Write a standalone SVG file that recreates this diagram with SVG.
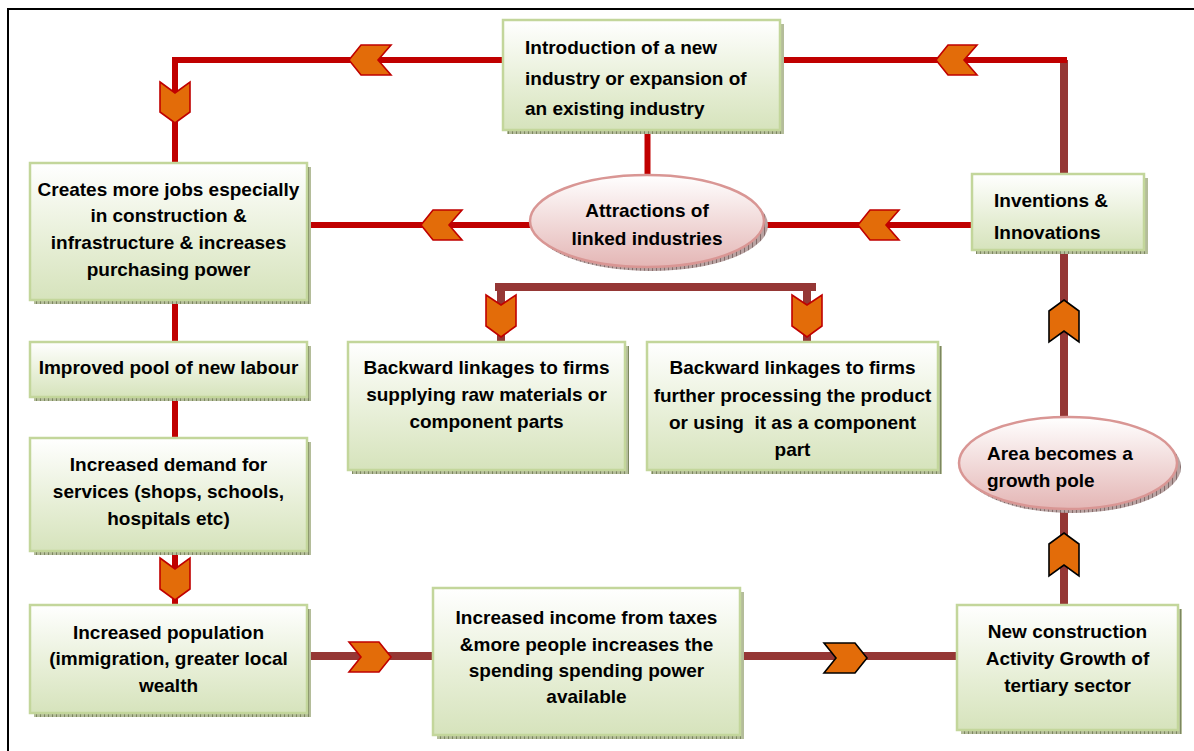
<svg xmlns="http://www.w3.org/2000/svg" width="1194" height="751" viewBox="0 0 1194 751">
<defs>
<linearGradient id="gBox" x1="0" y1="0" x2="0" y2="1">
<stop offset="0" stop-color="#ffffff"/>
<stop offset="0.6" stop-color="#e6eed5"/>
<stop offset="1" stop-color="#d6e3bc"/>
</linearGradient>
<linearGradient id="gEll" x1="0" y1="0" x2="0" y2="1">
<stop offset="0" stop-color="#ffffff"/>
<stop offset="1" stop-color="#e4b6b5"/>
</linearGradient>
<pattern id="hatch" width="4" height="4" patternUnits="userSpaceOnUse">
<rect width="4" height="4" fill="#b4bd9a"/>
<line x1="0.5" y1="0" x2="0.5" y2="4" stroke="#7c8760" stroke-width="1"/>
</pattern>
<pattern id="hatch2" width="4" height="4" patternUnits="userSpaceOnUse">
<rect width="4" height="4" fill="#b9a3a2"/>
<line x1="0.5" y1="0" x2="0.5" y2="4" stroke="#836b6a" stroke-width="1"/>
</pattern>
</defs>
<style>
.box{fill:url(#gBox);stroke:#c3d69b;stroke-width:2.5}
.sh{fill:url(#hatch)}
.sh2{fill:url(#hatch2)}
.ell{fill:url(#gEll);stroke:#d99694;stroke-width:2.5}
.t{font-family:"Liberation Sans",Arial,sans-serif;font-weight:bold;font-size:19px;fill:#000}
.c{text-anchor:middle}
.red{stroke:#c00000;stroke-width:6;fill:none}
.dred{stroke:#953735;stroke-width:8;fill:none}
.chev{fill:#e36c09;stroke:#c00000;stroke-width:1.6;stroke-linejoin:miter}
.chevb{fill:#e36c09;stroke:#000;stroke-width:1.6;stroke-linejoin:miter}
</style>
<rect x="0" y="0" width="1194" height="751" fill="#ffffff"/>
<rect x="8" y="9" width="1200" height="760" fill="none" stroke="#000" stroke-width="2"/>

<g id="connectors">
<path class="dred" d="M1064,60 V605"/>
<path class="red" d="M175,163 V60 H503"/>
<path class="red" d="M780,60 H1067"/>
<path class="red" d="M647.5,130 V176"/>
<path class="red" d="M307,225 H531"/>
<path class="red" d="M763,225 H972"/>
<path class="red" d="M175,300 V342"/>
<path class="red" d="M175,397 V438"/>
<path class="red" d="M175,551 V605"/>
<path class="dred" d="M495,287 H816"/>
<path class="dred" d="M501,283 V342"/>
<path class="dred" d="M807,283 V342"/>
<path class="dred" d="M307,656 H433"/>
<path class="dred" d="M740,656 H957"/>
<polygon class="chev" points="349,60 361,45 391,45 378,60 391,75 361,75"/>
<polygon class="chev" points="936,60 948,45 977,45 964,60 977,75 948,75"/>
<polygon class="chev" points="160,82 175,93 190,82 190,112 175,123 160,112"/>
<polygon class="chev" points="421,225 433,210 462,210 449,225 462,240 433,240"/>
<polygon class="chev" points="858,225 870,210 899,210 886,225 899,240 870,240"/>
<polygon class="chev" points="486,295 501,305 516,295 516,326 501,337 486,326"/>
<polygon class="chev" points="792,295 807,305 822,295 822,326 807,337 792,326"/>
<polygon class="chev" points="160,558 175,569 190,558 190,589 175,600 160,589"/>
<polygon class="chev" points="349,642 379,642 391,657 379,672 349,672 361,657"/>
<polygon class="chevb" points="824,643 855,643 867,658 855,673 824,673 836,658"/>
<polygon class="chevb" points="1064,300 1079,311 1079,342 1064,331 1049,342 1049,311"/>
<polygon class="chevb" points="1064,533 1079,544 1079,576 1064,565 1049,576 1049,544"/>
</g>

<g id="n-intro">
<rect class="sh" x="507" y="24" width="277" height="110"/>
<rect class="box" x="503" y="20" width="277" height="110"/>
<text class="t" x="525" y="54">Introduction of a new</text>
<text class="t" x="525" y="85">industry or expansion of</text>
<text class="t" x="525" y="115">an existing industry</text>
</g>

<g id="n-jobs">
<rect class="sh" x="34" y="167" width="277" height="137"/>
<rect class="box" x="30" y="163" width="277" height="137"/>
<text class="t c" x="168.5" y="196">Creates more jobs especially</text>
<text class="t c" x="168.5" y="222">in construction &amp;</text>
<text class="t c" x="168.5" y="249">infrastructure &amp; increases</text>
<text class="t c" x="168.5" y="276">purchasing power</text>
</g>

<g id="n-labour">
<rect class="sh" x="34" y="346" width="277" height="55"/>
<rect class="box" x="30" y="342" width="277" height="55"/>
<text class="t c" x="168.5" y="374">Improved pool of new labour</text>
</g>

<g id="n-demand">
<rect class="sh" x="34" y="442" width="277" height="113"/>
<rect class="box" x="30" y="438" width="277" height="113"/>
<text class="t c" x="168.5" y="471">Increased demand for</text>
<text class="t c" x="168.5" y="498">services (shops, schools,</text>
<text class="t c" x="168.5" y="525">hospitals etc)</text>
</g>

<g id="n-population">
<rect class="sh" x="34" y="609" width="277" height="108"/>
<rect class="box" x="30" y="605" width="277" height="108"/>
<text class="t c" x="168.5" y="639">Increased population</text>
<text class="t c" x="168.5" y="665">(immigration, greater local</text>
<text class="t c" x="168.5" y="692">wealth</text>
</g>

<g id="n-income">
<rect class="sh" x="437" y="592" width="307" height="147"/>
<rect class="box" x="433" y="588" width="307" height="147"/>
<text class="t c" x="586.5" y="624">Increased income from taxes</text>
<text class="t c" x="586.5" y="651">&amp;more people increases the</text>
<text class="t c" x="586.5" y="677">spending spending power</text>
<text class="t c" x="586.5" y="703">available</text>
</g>

<g id="n-construction">
<rect class="sh" x="961" y="609" width="221" height="125"/>
<rect class="box" x="957" y="605" width="221" height="125"/>
<text class="t c" x="1067.5" y="638">New construction</text>
<text class="t c" x="1067.5" y="665">Activity Growth of</text>
<text class="t c" x="1067.5" y="692">tertiary sector</text>
</g>

<g id="n-inventions">
<rect class="sh" x="976" y="178" width="172" height="76"/>
<rect class="box" x="972" y="174" width="172" height="76"/>
<text class="t" x="994" y="207">Inventions &amp;</text>
<text class="t" x="994" y="239">Innovations</text>
</g>

<g id="n-attractions">
<ellipse class="sh2" cx="651" cy="225" rx="117" ry="46"/>
<ellipse class="ell" cx="647" cy="221" rx="117" ry="46"/>
<text class="t c" x="647" y="217">Attractions of</text>
<text class="t c" x="647" y="245">linked industries</text>
</g>

<g id="n-growthpole">
<ellipse class="sh2" cx="1072" cy="467" rx="109" ry="46"/>
<ellipse class="ell" cx="1068" cy="463" rx="109" ry="46"/>
<text class="t" x="987" y="460">Area becomes a</text>
<text class="t" x="987" y="487">growth pole</text>
</g>

<g id="n-backward1">
<rect class="sh" x="352" y="346" width="277" height="128"/>
<rect class="box" x="348" y="342" width="277" height="128"/>
<text class="t c" x="486.5" y="374">Backward linkages to firms</text>
<text class="t c" x="486.5" y="401">supplying raw materials or</text>
<text class="t c" x="486.5" y="428">component parts</text>
</g>

<g id="n-backward2">
<rect class="sh" x="651" y="346" width="291" height="128"/>
<rect class="box" x="647" y="342" width="291" height="128"/>
<text class="t c" x="792.5" y="374">Backward linkages to firms</text>
<text class="t c" x="792.5" y="402">further processing the product</text>
<text class="t c" x="792.5" y="429" xml:space="preserve">or using  it as a component</text>
<text class="t c" x="792.5" y="456">part</text>
</g>
</svg>
